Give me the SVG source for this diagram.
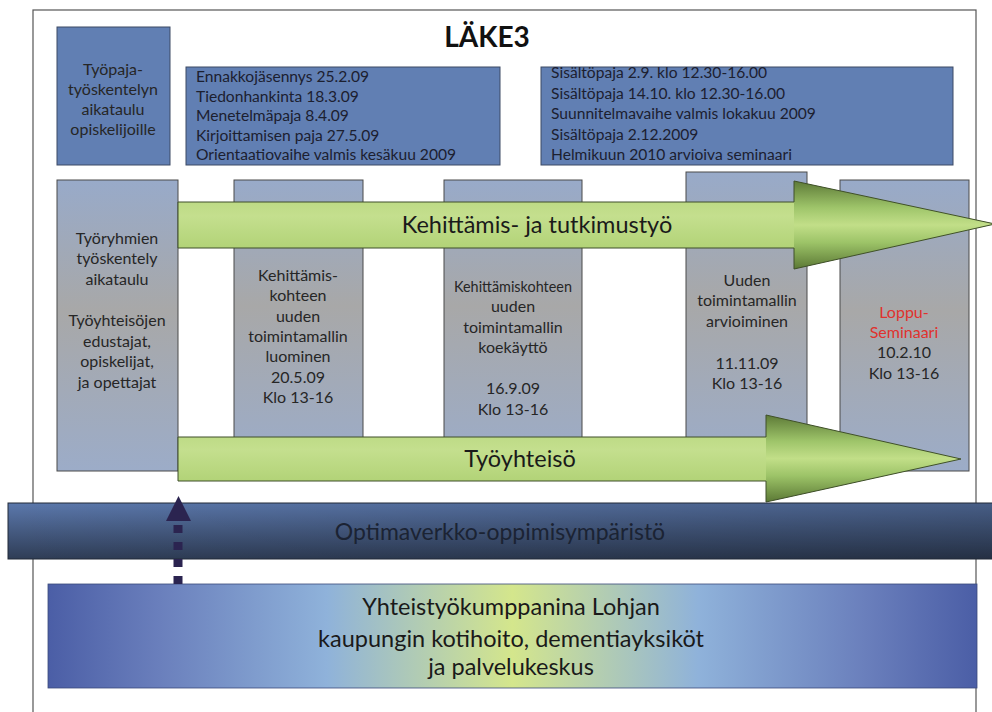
<svg xmlns="http://www.w3.org/2000/svg" width="992" height="712" viewBox="0 0 992 712">
<defs>
<linearGradient id="colG" x1="0" y1="0" x2="0" y2="1">
<stop offset="0" stop-color="#98aac9"/>
<stop offset="0.45" stop-color="#a8a8a8"/>
<stop offset="1" stop-color="#9cacc8"/>
</linearGradient>
<linearGradient id="shaftG" x1="0" y1="0" x2="0" y2="1">
<stop offset="0" stop-color="#b4d478"/>
<stop offset="0.4" stop-color="#c4df8e"/>
<stop offset="1" stop-color="#a6cb68"/>
</linearGradient>
<linearGradient id="headG" x1="0" y1="0" x2="0" y2="1">
<stop offset="0" stop-color="#4e6a2c"/>
<stop offset="0.3" stop-color="#98c064"/>
<stop offset="0.5" stop-color="#c2df88"/>
<stop offset="0.7" stop-color="#98c064"/>
<stop offset="1" stop-color="#4e6a2c"/>
</linearGradient>
<linearGradient id="bandG" x1="0" y1="0" x2="0" y2="1">
<stop offset="0" stop-color="#5b78ac"/>
<stop offset="1" stop-color="#2f3d56"/>
</linearGradient>
<linearGradient id="bandShade" x1="0" y1="0" x2="1" y2="0">
<stop offset="0" stop-color="#000" stop-opacity="0"/>
<stop offset="1" stop-color="#000" stop-opacity="0.22"/>
</linearGradient>
<linearGradient id="partG" x1="0" y1="0" x2="1" y2="0">
<stop offset="0" stop-color="#4b5ea6"/>
<stop offset="0.12" stop-color="#6a7fbc"/>
<stop offset="0.3" stop-color="#8fb2da"/>
<stop offset="0.5" stop-color="#d4e68c"/>
<stop offset="0.7" stop-color="#8fb2da"/>
<stop offset="0.88" stop-color="#6a7fbc"/>
<stop offset="1" stop-color="#4b5ea6"/>
</linearGradient>
</defs>
<style>
text{font-family:Lato,"Liberation Sans",sans-serif;fill:#262626}
.top{fill:#617fb3;stroke:#3c4a64;stroke-width:1}
.col{fill:url(#colG);stroke:#4a4a4a;stroke-width:1}
.ct{font-size:16px;text-anchor:middle}
.tl{font-size:15.6px;fill:#1c2030}
.head{fill:url(#headG);opacity:0.85}
.outline{fill:none;stroke:#3f4f2a;stroke-width:1}
.big{font-size:23.5px;text-anchor:middle;fill:#1a1a1a}
.low{font-size:23.5px;text-anchor:middle;fill:#1a1a1a}
.red{fill:#e0322e}
</style>
<rect x="0" y="0" width="992" height="712" fill="#ffffff"/>
<rect id="frame" x="33" y="10" width="943" height="720" fill="none" stroke="#555555" stroke-width="1.2"/>
<g id="title"><text x="487" y="47" font-size="28" font-weight="bold" text-anchor="middle" style="fill:#111">LÄKE3</text></g>

<g id="n-opiskelijat">
<rect class="top" x="57" y="27" width="113" height="138"/>
<text class="ct" x="113" y="75">Työpaja-</text>
<text class="ct" x="113" y="95">työskentelyn</text>
<text class="ct" x="113" y="115">aikataulu</text>
<text class="ct" x="113" y="135">opiskelijoille</text>
</g>
<g id="n-vaihe1">
<rect class="top" x="186" y="67" width="314" height="98"/>
<text class="tl" x="196" y="82">Ennakkojäsennys 25.2.09</text>
<text class="tl" x="196" y="102">Tiedonhankinta 18.3.09</text>
<text class="tl" x="196" y="121">Menetelmäpaja 8.4.09</text>
<text class="tl" x="196" y="141">Kirjoittamisen paja 27.5.09</text>
<text class="tl" x="196" y="160">Orientaatiovaihe valmis kesäkuu 2009</text>
</g>
<g id="n-vaihe2">
<rect class="top" x="541" y="67" width="412" height="98"/>
<text class="tl" x="551" y="78">Sisältöpaja 2.9. klo 12.30-16.00</text>
<text class="tl" x="551" y="99">Sisältöpaja 14.10. klo 12.30-16.00</text>
<text class="tl" x="551" y="119">Suunnitelmavaihe valmis lokakuu 2009</text>
<text class="tl" x="551" y="140">Sisältöpaja 2.12.2009</text>
<text class="tl" x="551" y="160">Helmikuun 2010 arvioiva seminaari</text>
</g>

<g id="n-col1">
<rect class="col" x="57" y="180" width="121" height="291"/>
<text class="ct" x="117" y="244">Työryhmien</text>
<text class="ct" x="117" y="264">työskentely</text>
<text class="ct" x="117" y="285">aikataulu</text>
<text class="ct" x="117" y="326">Työyhteisöjen</text>
<text class="ct" x="117" y="347">edustajat,</text>
<text class="ct" x="117" y="367">opiskelijat,</text>
<text class="ct" x="117" y="388">ja opettajat</text>
</g>
<g id="n-col2">
<rect class="col" x="234" y="180" width="129" height="280"/>
<text class="ct" x="298" y="281">Kehittämis-</text>
<text class="ct" x="298" y="301">kohteen</text>
<text class="ct" x="298" y="322">uuden</text>
<text class="ct" x="298" y="342">toimintamallin</text>
<text class="ct" x="298" y="362">luominen</text>
<text class="ct" x="298" y="383">20.5.09</text>
<text class="ct" x="298" y="403">Klo 13-16</text>
</g>
<g id="n-col3">
<rect class="col" x="444" y="180" width="138" height="280"/>
<text class="ct" x="513" y="292" style="font-size:14.4px">Kehittämiskohteen</text>
<text class="ct" x="513" y="312">uuden</text>
<text class="ct" x="513" y="333">toimintamallin</text>
<text class="ct" x="513" y="353">koekäyttö</text>
<text class="ct" x="513" y="394">16.9.09</text>
<text class="ct" x="513" y="415">Klo 13-16</text>
</g>
<g id="n-col4">
<rect class="col" x="686" y="172" width="121" height="288"/>
<text class="ct" x="747" y="286">Uuden</text>
<text class="ct" x="747" y="306">toimintamallin</text>
<text class="ct" x="747" y="327">arvioiminen</text>
<text class="ct" x="747" y="369">11.11.09</text>
<text class="ct" x="747" y="389">Klo 13-16</text>
</g>
<g id="n-col5">
<rect class="col" x="840" y="180" width="129" height="291"/>
<text class="ct red" x="904" y="318">Loppu-</text>
<text class="ct red" x="904" y="338">Seminaari</text>
<text class="ct" x="904" y="358">10.2.10</text>
<text class="ct" x="904" y="379">Klo 13-16</text>
</g>

<g id="n-kehittamis">
<path d="M178,202 H794 V181 L995,224 L794,269 V248 H178 Z" fill="url(#shaftG)"/>
<path class="head" d="M794,181 L995,224 L794,269 Z"/>
<path class="outline" d="M178,202 H794 V181 L995,224 L794,269 V248 H178 Z"/>
<text class="big" x="537" y="233">Kehittämis- ja tutkimustyö</text>
</g>
<g id="n-tyoyhteiso">
<path d="M178,437 H766 V415 L961,459 L766,502 V481 H178 Z" fill="url(#shaftG)"/>
<path class="head" d="M766,415 L961,459 L766,502 Z"/>
<path class="outline" d="M178,437 H766 V415 L961,459 L766,502 V481 H178 Z"/>
<text class="big" x="520" y="467">Työyhteisö</text>
</g>

<g id="n-optimaverkko">
<rect x="8" y="503" width="986" height="56" fill="url(#bandG)"/>
<rect x="8" y="503" width="986" height="56" fill="url(#bandShade)" stroke="#222a38" stroke-width="1"/>
<text x="500" y="540" font-size="23" text-anchor="middle" style="fill:#1b2333">Optimaverkko-oppimisympäristö</text>
</g>

<g id="n-kumppani">
<rect x="48" y="584" width="929" height="104" fill="url(#partG)" stroke="#3a4a7a" stroke-width="0.8"/>
<text class="low" x="511" y="615">Yhteistyökumppanina Lohjan</text>
<text class="low" x="511" y="647">kaupungin kotihoito, dementiayksiköt</text>
<text class="low" x="511" y="675">ja palvelukeskus</text>
</g>

<g id="connectors">
<line x1="178" y1="584" x2="178" y2="521" stroke="#2b2450" stroke-width="9" stroke-dasharray="8 9"/>
<polygon points="166,521 191,521 178.5,496" fill="#2b2450"/>
</g>
</svg>
